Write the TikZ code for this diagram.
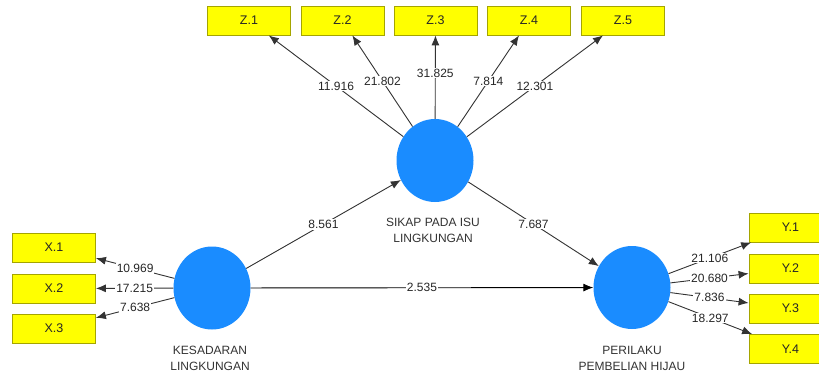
\documentclass[tikz,border=0pt]{standalone}
\usepackage{fontspec}
\setmainfont{Liberation Sans}
\usetikzlibrary{shapes.geometric,arrows.meta}
\definecolor{lvblue}{RGB}{26,140,255}
\definecolor{boxyellow}{RGB}{255,255,0}
\definecolor{boxline}{RGB}{165,165,0}
\tikzset{
 lv/.style={ellipse, fill=lvblue, draw=none, minimum width=77pt, minimum height=83pt, inner sep=0pt},
 ind/.style={rectangle, fill=boxyellow, draw=boxline, line width=0.8pt, minimum width=83pt, minimum height=29pt, inner sep=0pt, font=\fontsize{12.5}{14}\selectfont, text=black!85},
 lvlabel/.style={align=center, font=\fontsize{12}{16}\selectfont, text=black!80},
 conn/.style={draw=black!80, line width=0.9pt, -{Latex[length=10pt,width=8pt]}},
 val/.style={fill=white, inner sep=1pt, font=\fontsize{12}{14}\selectfont, text=black!85},
}
\begin{document}
\begin{tikzpicture}[x=1pt,y=-1pt]
\clip (0,0) rectangle (819,376);
\fill[white] (0,0) rectangle (819,376);
% latent variables
\node[lv] (S) at (435,160.5) {};
\node[lv] (K) at (212,288) {};
\node[lv] (P) at (632,287.5) {};
\node[lvlabel] (Sl) at (433,230.5) {SIKAP PADA ISU\\LINGKUNGAN};
\node[lvlabel] (Kl) at (210,358) {KESADARAN\\LINGKUNGAN};
\node[lvlabel] (Pl) at (632,358) {PERILAKU\\PEMBELIAN HIJAU};
% indicators
\node[ind] (Z1) at (249,20.5) {Z.1};
\node[ind] (Z2) at (342.5,20.5) {Z.2};
\node[ind] (Z3) at (435.5,20.5) {Z.3};
\node[ind] (Z4) at (529,20.5) {Z.4};
\node[ind] (Z5) at (623,20.5) {Z.5};
\node[ind] (X1) at (54,247.5) {X.1};
\node[ind] (X2) at (54,288.5) {X.2};
\node[ind] (X3) at (54,328.5) {X.3};
\node[ind] (Y1) at (790.5,227.5) {Y.1};
\node[ind] (Y2) at (790.5,268.5) {Y.2};
\node[ind] (Y3) at (790.5,308.5) {Y.3};
\node[ind] (Y4) at (790.5,349) {Y.4};
% outer loadings
\draw[conn] (S) -- node[val] {11.916} (Z1);
\draw[conn] (S) -- node[val] {21.802} (Z2);
\draw[conn] (S) -- node[val,pos=0.55] {31.825} (Z3);
\draw[conn] (S) -- node[val] {7.814} (Z4);
\draw[conn] (S) -- node[val] {12.301} (Z5);
\draw[conn] (K) -- node[val] {10.969} (X1);
\draw[conn] (K) -- node[val] {17.215} (X2);
\draw[conn] (K) -- node[val] {7.638} (X3);
\draw[conn] (P) -- node[val] {21.106} (Y1);
\draw[conn] (P) -- node[val] {20.680} (Y2);
\draw[conn] (P) -- node[val] {7.836} (Y3);
\draw[conn] (P) -- node[val] {18.297} (Y4);
% structural paths
\draw[conn] (K) -- node[val] {8.561} (S);
\draw[conn] (S) -- node[val] {7.687} (P);
\draw[conn,draw=black] (K) -- node[val] {2.535} (P);
\end{tikzpicture}
\end{document}
